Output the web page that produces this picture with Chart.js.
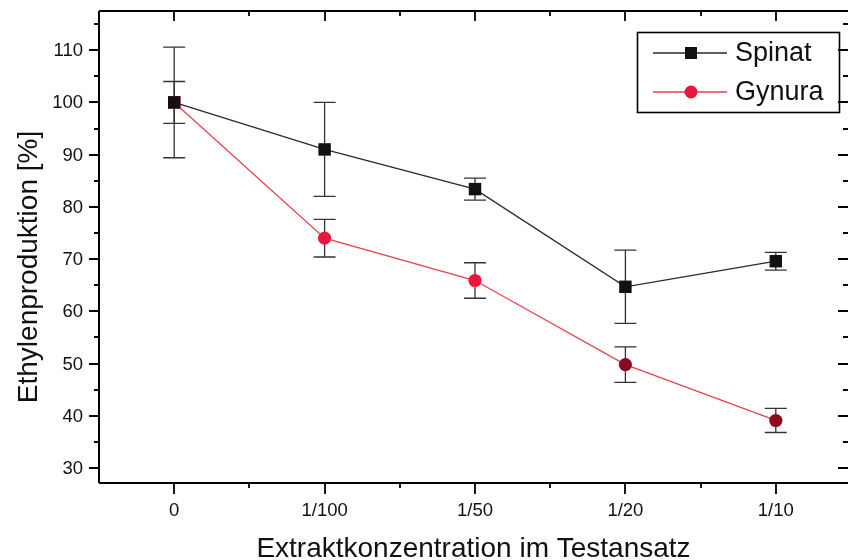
<!DOCTYPE html>
<html>
<head>
<meta charset="utf-8">
<script src="https://cdn.jsdelivr.net/npm/chart.js@4.4.1/dist/chart.umd.min.js"></script>
<style>
  html, body { margin: 0; padding: 0; background: #fff; }
  #wrap { width: 848px; height: 560px; }
</style>
</head>
<body>
<div id="wrap"><canvas id="chart" width="848" height="560"></canvas></div>
<script>
// data
const categories = ['0', '1/100', '1/50', '1/20', '1/10'];
const spinat = [100, 91, 83.4, 64.7, 69.6];
const spinatErr = [10.6, 9, 2.1, 7, 1.7];
const gynura = [100, 74, 65.9, 49.8, 39.1];
const gynuraErr = [4, 3.6, 3.4, 3.4, 2.3];
const gynuraColors = ['#e8183c', '#e8183c', '#e8183c', '#8a0a1e', '#8a0a1e'];
const yTicks = [30, 40, 50, 60, 70, 80, 90, 100, 110];
const yMinor = [35, 45, 55, 65, 75, 85, 95, 105, 115];

const FONT = '"Liberation Sans", Arial, sans-serif';

function toPoints(vals) {
    return vals.map(function(v, i) { return { x: i, y: v }; });
}

// error bars, drawn under the markers
const errorBars = {
    id: 'errorBars',
    beforeDatasetsDraw: function(chart) {
        const ctx = chart.ctx;
        const x = chart.scales.x, y = chart.scales.y;
        const sets = [[spinat, spinatErr], [gynura, gynuraErr]];
        ctx.save();
        ctx.strokeStyle = '#333';
        ctx.lineWidth = 1.3;
        sets.forEach(function(s) {
            s[0].forEach(function(v, i) {
                const px = x.getPixelForValue(i);
                const top = y.getPixelForValue(v + s[1][i]);
                const bot = y.getPixelForValue(v - s[1][i]);
                ctx.beginPath();
                ctx.moveTo(px, top); ctx.lineTo(px, bot);
                ctx.moveTo(px - 11, top); ctx.lineTo(px + 11, top);
                ctx.moveTo(px - 11, bot); ctx.lineTo(px + 11, bot);
                ctx.stroke();
            });
        });
        ctx.restore();
    }
};

// frame, ticks, labels, titles and legend
const frame = {
    id: 'frame',
    afterDraw: function(chart) {
        const ctx = chart.ctx;
        const a = chart.chartArea;
        const x = chart.scales.x, y = chart.scales.y;
        ctx.save();
        ctx.strokeStyle = '#000';
        ctx.lineWidth = 2;
        ctx.beginPath();
        ctx.moveTo(a.left, a.top); ctx.lineTo(a.right, a.top);
        ctx.moveTo(a.left, a.top); ctx.lineTo(a.left, a.bottom);
        ctx.moveTo(a.left, a.bottom); ctx.lineTo(a.right, a.bottom);
        ctx.stroke();

        ctx.lineWidth = 1.8;
        ctx.beginPath();
        yTicks.forEach(function(t) {
            const py = Math.round(y.getPixelForValue(t));
            ctx.moveTo(a.left - 10, py); ctx.lineTo(a.left, py);
            ctx.moveTo(a.right - 10, py); ctx.lineTo(a.right, py);
        });
        yMinor.forEach(function(t) {
            const py = Math.round(y.getPixelForValue(t));
            ctx.moveTo(a.left - 5, py); ctx.lineTo(a.left, py);
            ctx.moveTo(a.right - 5, py); ctx.lineTo(a.right, py);
        });
        categories.forEach(function(c, i) {
            const px = Math.round(x.getPixelForValue(i));
            ctx.moveTo(px, a.bottom); ctx.lineTo(px, a.bottom + 11);
            ctx.moveTo(px, a.top); ctx.lineTo(px, a.top + 10);
            const mx = Math.round(x.getPixelForValue(i + 0.5));
            ctx.moveTo(mx, a.bottom); ctx.lineTo(mx, a.bottom + 5);
            ctx.moveTo(mx, a.top); ctx.lineTo(mx, a.top + 5);
        });
        ctx.stroke();

        ctx.fillStyle = '#111';
        ctx.font = '18.5px ' + FONT;
        ctx.textAlign = 'right';
        ctx.textBaseline = 'middle';
        yTicks.forEach(function(t) {
            ctx.fillText(String(t), a.left - 16, y.getPixelForValue(t) + 1);
        });
        ctx.textAlign = 'center';
        ctx.textBaseline = 'alphabetic';
        categories.forEach(function(c, i) {
            ctx.fillText(c, x.getPixelForValue(i), 516);
        });

        ctx.font = '28px ' + FONT;
        ctx.fillText('Extraktkonzentration im Testansatz', (a.left + a.right) / 2, 557);
        ctx.save();
        ctx.translate(37, 267);
        ctx.rotate(-Math.PI / 2);
        ctx.textBaseline = 'alphabetic';
        ctx.fillText('Ethylenproduktion [%]', 0, 0);
        ctx.restore();

        // legend
        ctx.lineWidth = 1.6;
        ctx.strokeStyle = '#000';
        ctx.strokeRect(637.5, 32.5, 202, 80);
        const ds = chart.data.datasets;
        const rows = [53, 92];
        ds.forEach(function(d, k) {
            const ry = rows[k];
            ctx.strokeStyle = d.borderColor;
            ctx.lineWidth = 1.3;
            ctx.beginPath();
            ctx.moveTo(653, ry); ctx.lineTo(727, ry);
            ctx.stroke();
            ctx.fillStyle = k === 0 ? '#111' : '#e8183c';
            if (k === 0) {
                ctx.fillRect(685, ry - 6, 12, 12);
            } else {
                ctx.beginPath();
                ctx.arc(691, ry, 6.5, 0, Math.PI * 2);
                ctx.fill();
            }
            ctx.fillStyle = '#111';
            ctx.font = '27px ' + FONT;
            ctx.textAlign = 'left';
            ctx.textBaseline = 'middle';
            ctx.fillText(d.label, 735, ry + 1);
        });
        ctx.restore();
    }
};

new Chart(document.getElementById('chart'), {
    type: 'line',
    data: {
        datasets: [{
            label: 'Spinat',
            data: toPoints(spinat),
            borderColor: '#2a2a2a',
            borderWidth: 1.3,
            pointStyle: 'rect',
            pointRadius: 8.8,
            pointBackgroundColor: '#111',
            pointBorderColor: '#111',
            pointBorderWidth: 0,
            clip: false
        }, {
            label: 'Gynura',
            data: toPoints(gynura),
            borderColor: '#e8404e',
            borderWidth: 1.3,
            pointStyle: ['rect', 'circle', 'circle', 'circle', 'circle'],
            pointRadius: [8.8, 6.6, 6.6, 6.6, 6.6],
            pointBackgroundColor: gynuraColors,
            pointBorderColor: gynuraColors,
            pointBorderWidth: 0,
            clip: false
        }]
    },
    options: {
        responsive: false,
        animation: false,
        layout: { autoPadding: false, padding: { left: 99, top: 11, right: 0, bottom: 77 } },
        plugins: { legend: { display: false }, tooltip: { enabled: false } },
        scales: {
            x: { type: 'linear', min: -0.5, max: 4.48, display: false },
            y: { min: 27.13, max: 117.5, display: false }
        }
    },
    plugins: [errorBars, frame]
});
</script>
</body>
</html>
